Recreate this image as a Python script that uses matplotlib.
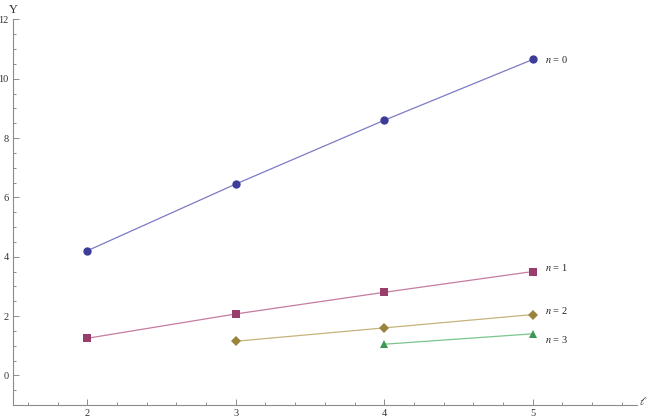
import matplotlib
matplotlib.use("Agg")
import matplotlib.pyplot as plt
from matplotlib.ticker import MultipleLocator

# data
ell_0 = [2, 3, 4, 5]
ups_0 = [4.2, 6.45, 8.6, 10.65]
ell_1 = [2, 3, 4, 5]
ups_1 = [1.25, 2.07, 2.8, 3.5]
ell_2 = [3, 4, 5]
ups_2 = [1.15, 1.6, 2.05]
ell_3 = [4, 5]
ups_3 = [1.05, 1.4]
labels = ["0", "1", "2", "3"]

# Mathematica-like colours: marker colour, lighter line colour
mark_cols = ["#3d3d99", "#993d6b", "#99833d", "#3d9952"]
line_cols = ["#7b7bc6", "#c67ba2", "#c6b37b", "#7bc68e"]
markers = ["o", "s", "D", "^"]
msizes = [6, 5.5, 5, 6]
label_dy = [0, 3, 3, -4]

plt.rcParams["font.family"] = ["Liberation Serif", "DejaVu Serif"]
plt.rcParams["mathtext.fontset"] = "stix"

fig = plt.figure(figsize=(6.5, 4.2), dpi=100)
ax = fig.add_axes([0.02, 0.0357, 0.9595, 0.918])

series = [(ell_0, ups_0), (ell_1, ups_1), (ell_2, ups_2), (ell_3, ups_3)]
for i, (xs, ys) in enumerate(series):
    ax.plot(xs, ys, color=line_cols[i], lw=0.9, zorder=2)
    ax.plot(xs, ys, linestyle="none", marker=markers[i], ms=msizes[i],
            color=mark_cols[i], markeredgewidth=0, zorder=3)
    ax.annotate(r"$n$ = " + labels[i], (xs[-1], ys[-1]),
                xytext=(9, label_dy[i]), textcoords="offset points",
                fontsize=7.5, color="#222222", va="center", ha="left")

ax.set_xlim(1.5, 5.7)
ax.set_ylim(-1.0, 12)

ax.spines["top"].set_visible(False)
ax.spines["right"].set_visible(False)
for s in ["left", "bottom"]:
    ax.spines[s].set_color("#8c8c8c")
    ax.spines[s].set_linewidth(0.8)

ax.xaxis.set_major_locator(MultipleLocator(1))
ax.xaxis.set_minor_locator(MultipleLocator(0.2))
ax.yaxis.set_major_locator(MultipleLocator(2))
ax.yaxis.set_minor_locator(MultipleLocator(0.5))
ax.set_xticks([2, 3, 4, 5])
ax.tick_params(which="both", direction="in", color="#8c8c8c", width=0.7,
               labelsize=7.5, labelcolor="#333333")
ax.tick_params(which="major", length=4, pad=3)
ax.tick_params(which="minor", length=2)

ax.text(0.0, 1.01, "Υ", transform=ax.transAxes, fontsize=9,
        ha="center", va="bottom", color="#333333")
ax.text(1.004, 0.01, r"$\ell$", transform=ax.transAxes, fontsize=8,
        ha="left", va="center", color="#333333")

fig.savefig("out.png", dpi=100)
